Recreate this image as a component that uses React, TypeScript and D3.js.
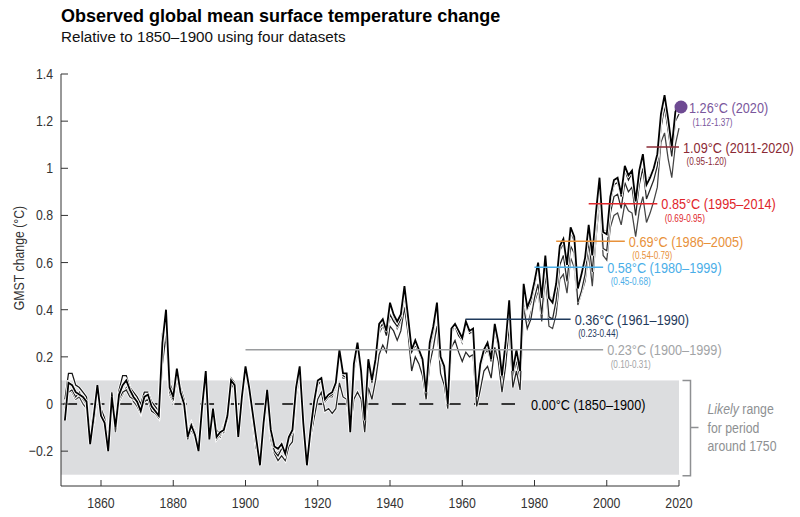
import React from 'react';
import * as d3 from 'd3';

const START_YEAR = 1850;

// Main (black) dataset
const seriesA = [
  -0.07, 0.09, 0.08, 0.05, 0.04, 0.03, 0.01, -0.17, -0.05, 0.08,
  -0.05, -0.08, -0.20, 0.03, -0.10, 0.04, 0.08, 0.10, 0.06, 0.03,
  0.01, -0.03, 0.03, 0.04, -0.01, -0.03, -0.05, 0.26, 0.40, 0.07,
  0.03, 0.15, 0.05, 0.00, -0.14, -0.09, -0.13, -0.20, -0.01, 0.14,
  -0.15, -0.02, -0.14, -0.12, -0.11, -0.05, 0.10, 0.08, -0.14, 0.03,
  0.16, 0.07, -0.04, -0.15, -0.26, -0.08, 0.06, -0.11, -0.18, -0.19,
  -0.17, -0.21, -0.14, -0.11, 0.07, 0.16, -0.08, -0.26, -0.11, 0.01,
  0.10, 0.11, 0.02, 0.04, 0.05, 0.09, 0.23, 0.13, 0.13, -0.12,
  0.17, 0.26, 0.14, -0.07, 0.19, 0.10, 0.19, 0.34, 0.36, 0.31,
  0.43, 0.38, 0.35, 0.38, 0.50, 0.37, 0.23, 0.27, 0.23, 0.19,
  0.05, 0.26, 0.33, 0.43, 0.20, 0.16, 0.00, 0.32, 0.34, 0.31,
  0.28, 0.35, 0.31, 0.32, 0.03, 0.17, 0.23, 0.26, 0.19, 0.34,
  0.26, 0.12, 0.26, 0.44, 0.14, 0.23, 0.14, 0.51, 0.41, 0.45,
  0.52, 0.60, 0.45, 0.63, 0.45, 0.43, 0.51, 0.67, 0.70, 0.59,
  0.75, 0.71, 0.49, 0.55, 0.62, 0.76, 0.63, 0.81, 0.96, 0.73,
  0.72, 0.88, 0.95, 0.96, 0.89, 1.01, 0.97, 0.99, 0.86, 0.99,
  1.06, 0.93, 0.96, 1.00, 1.06, 1.23, 1.31, 1.21, 1.09, 1.24,
  1.27,
];

const seriesB = [
  0.02, 0.13, 0.13, 0.08, 0.07, 0.05, 0.03, -0.13, -0.03, 0.06,
  -0.02, -0.06, -0.16, 0.05, -0.07, 0.06, 0.12, 0.12, 0.07, 0.05,
  0.03, 0.00, 0.05, 0.05, 0.01, -0.01, -0.03, 0.30, 0.35, 0.09,
  0.05, 0.12, 0.07, 0.02, -0.12, -0.08, -0.12, -0.18, 0.00, 0.13,
  -0.13, -0.03, -0.11, -0.13, -0.10, -0.04, 0.11, 0.09, -0.12, 0.02,
  0.14, 0.06, -0.05, -0.16, -0.24, -0.09, 0.04, -0.13, -0.20, -0.22,
  -0.19, -0.19, -0.15, -0.12, 0.05, 0.14, -0.09, -0.24, -0.12, 0.00,
  0.08, 0.10, 0.01, 0.03, 0.04, 0.08, 0.21, 0.12, 0.11, -0.10,
  0.16, 0.24, 0.13, -0.05, 0.17, 0.11, 0.17, 0.32, 0.34, 0.29,
  0.38, 0.35, 0.33, 0.36, 0.46, 0.35, 0.22, 0.25, 0.22, 0.18,
  0.06, 0.24, 0.31, 0.41, 0.19, 0.15, 0.02, 0.31, 0.33, 0.29,
  0.27, 0.34, 0.30, 0.31, 0.05, 0.16, 0.22, 0.25, 0.20, 0.33,
  0.27, 0.13, 0.25, 0.42, 0.15, 0.22, 0.15, 0.48, 0.40, 0.43,
  0.50, 0.58, 0.46, 0.60, 0.46, 0.44, 0.50, 0.65, 0.68, 0.60,
  0.73, 0.69, 0.50, 0.56, 0.61, 0.74, 0.64, 0.79, 0.93, 0.74,
  0.73, 0.86, 0.93, 0.94, 0.88, 0.99, 0.95, 0.98, 0.87, 0.98,
  1.04, 0.94, 0.97, 1.00, 1.05, 1.21, 1.30, 1.20, 1.10, 1.25,
  1.28,
];

const seriesC = [
  0.00, 0.05, 0.06, 0.03, 0.05, 0.02, 0.00, -0.12, -0.08, 0.05,
  -0.03, -0.05, -0.14, 0.01, -0.05, 0.02, 0.05, 0.06, 0.03, 0.02,
  0.03, -0.02, 0.01, 0.02, -0.03, -0.04, -0.06, 0.17, 0.29, 0.05,
  0.02, 0.10, 0.06, 0.01, -0.10, -0.10, -0.11, -0.17, -0.03, 0.11,
  -0.12, -0.04, -0.12, -0.14, -0.09, -0.07, 0.09, 0.06, -0.11, 0.01,
  0.12, 0.05, -0.07, -0.19, -0.23, -0.10, 0.01, -0.15, -0.21, -0.24,
  -0.22, -0.24, -0.18, -0.16, 0.03, 0.12, -0.11, -0.22, -0.14, -0.06,
  0.02, 0.05, -0.03, -0.02, -0.04, -0.02, 0.09, 0.03, 0.02, -0.11,
  0.02, 0.05, 0.02, -0.12, 0.07, 0.02, 0.10, 0.21, 0.25, 0.22,
  0.33, 0.31, 0.27, 0.31, 0.41, 0.30, 0.14, 0.20, 0.17, 0.12,
  0.02, 0.17, 0.24, 0.33, 0.13, 0.08, -0.02, 0.24, 0.27, 0.22,
  0.18, 0.22, 0.20, 0.21, -0.01, 0.06, 0.14, 0.16, 0.11, 0.24,
  0.18, 0.05, 0.16, 0.33, 0.07, 0.14, 0.06, 0.41, 0.32, 0.36,
  0.45, 0.51, 0.38, 0.55, 0.37, 0.36, 0.44, 0.59, 0.63, 0.52,
  0.67, 0.64, 0.43, 0.48, 0.55, 0.69, 0.56, 0.75, 0.90, 0.66,
  0.65, 0.81, 0.88, 0.89, 0.83, 0.94, 0.90, 0.92, 0.80, 0.93,
  1.00, 0.87, 0.91, 0.95, 1.01, 1.17, 1.26, 1.16, 1.05, 1.20,
  1.23,
];

const seriesD = [
  -0.02, 0.06, 0.05, 0.02, 0.03, 0.00, -0.02, -0.15, -0.07, 0.04,
  -0.04, -0.07, -0.18, 0.02, -0.12, 0.01, 0.04, 0.07, 0.04, 0.01,
  -0.01, -0.04, 0.02, 0.02, -0.02, -0.02, -0.06, 0.22, 0.38, 0.04,
  0.01, 0.13, 0.04, -0.02, -0.15, -0.11, -0.14, -0.19, -0.03, 0.12,
  -0.14, -0.04, -0.15, -0.13, -0.12, -0.06, 0.09, 0.07, -0.13, 0.02,
  0.15, 0.06, -0.05, -0.17, -0.25, -0.10, 0.04, -0.13, -0.20, -0.21,
  -0.18, -0.21, -0.15, -0.13, 0.06, 0.15, -0.09, -0.25, -0.12, 0.00,
  0.08, 0.09, 0.01, 0.03, 0.03, 0.07, 0.20, 0.11, 0.11, -0.12,
  0.14, 0.22, 0.12, -0.07, 0.16, 0.09, 0.16, 0.30, 0.33, 0.30,
  0.36, 0.37, 0.32, 0.35, 0.47, 0.35, 0.22, 0.26, 0.23, 0.18,
  0.06, 0.23, 0.30, 0.40, 0.18, 0.14, 0.03, 0.30, 0.33, 0.30,
  0.26, 0.33, 0.30, 0.30, 0.04, 0.15, 0.21, 0.23, 0.18, 0.31,
  0.24, 0.10, 0.22, 0.38, 0.12, 0.18, 0.10, 0.43, 0.33, 0.39,
  0.43, 0.48, 0.35, 0.52, 0.33, 0.32, 0.38, 0.53, 0.55, 0.47,
  0.62, 0.58, 0.42, 0.47, 0.52, 0.64, 0.50, 0.70, 0.86, 0.63,
  0.61, 0.75, 0.80, 0.81, 0.76, 0.85, 0.82, 0.81, 0.71, 0.82,
  0.88, 0.77, 0.81, 0.86, 0.92, 1.11, 1.15, 1.04, 0.96, 1.10,
  1.17,
];

const xTicks = [1860, 1880, 1900, 1920, 1940, 1960, 1980, 2000, 2020];
const yTicks = [-0.2, 0, 0.2, 0.4, 0.6, 0.8, 1, 1.2, 1.4];
const yTickLabels = ['−0.2', '0', '0.2', '0.4', '0.6', '0.8', '1', '1.2', '1.4'];

const periodLabels = ['0.23°C (1900–1999)', '0.36°C (1961–1990)', '0.58°C (1980–1999)', '0.69°C (1986–2005)', '0.85°C (1995–2014)', '1.09°C (2011-2020)'];
const periodRanges = ['(0.10-0.31)', '(0.23-0.44)', '(0.45-0.68)', '(0.54-0.79)', '(0.69-0.95)', '(0.95-1.20)'];
const periodValues = [0.23, 0.36, 0.58, 0.69, 0.85, 1.09];
const periodStarts = [1900, 1961, 1980, 1986, 1995, 2011];
const periodEnds = [1999, 1990, 1999, 2005, 2014, 2020];
const periodColors = ['#9a9c9e', '#1f3a5c', '#4aaee8', '#e8913a', '#e0262b', '#8b2a35'];
const periodTextColors = ['#a2a4a6', '#1f3a5c', '#4aaee8', '#e8913a', '#e0262b', '#8b2a35'];

const value2020 = 1.26;
const label2020 = '1.26°C (2020)';
const range2020 = '(1.12-1.37)';
const baselineLabel = '0.00°C (1850–1900)';
const likelyLow = -0.3;
const likelyHigh = 0.1;

const FONT = "'Liberation Sans', Arial, Helvetica, sans-serif";
const NARROW = 0.82;

function NText(props: {
  x: number; y: number; size: number; fill: string; anchor?: string;
  children: React.ReactNode; weight?: string; rotate?: number;
}) {
  const { x, y, size, fill, anchor = 'start', children, weight = 'normal', rotate = 0 } = props;
  return (
    <text
      transform={`translate(${x},${y}) rotate(${rotate}) scale(${NARROW},1)`}
      fontSize={size}
      fill={fill}
      textAnchor={anchor as any}
      fontFamily={FONT}
      fontWeight={weight}
    >
      {children}
    </text>
  );
}

export default function App() {
  const W = 800;
  const H = 517;
  const x = d3.scaleLinear().domain([1860, 2020]).range([101, 679]);
  const y = d3.scaleLinear().domain([0, 1.4]).range([404, 74]);
  const axisLeft = 61;
  const axisBottom = 486;

  const line = d3
    .line<number>()
    .x((_, i) => x(START_YEAR + i))
    .y((d) => y(d));

  const series = [
    { data: seriesD, color: '#444444', w: 1.25 },
    { data: seriesC, color: '#262626', w: 1.25 },
    { data: seriesB, color: '#141414', w: 1.25 },
    { data: seriesA, color: '#000000', w: 1.8 },
  ];

  const last = 2020;
  const bracketX = 690.5;

  return (
    <svg
      width={W}
      height={H}
      viewBox={`0 0 ${W} ${H}`}
      style={{ position: 'absolute', left: 0, top: 0, background: '#fff' }}
    >
      <rect x={0} y={0} width={W} height={H} fill="#fff" />
      <text x={61} y={22} fontSize={18} fontWeight="bold" fontFamily={FONT} fill="#000">
        Observed global mean surface temperature change
      </text>
      <text x={61} y={42} fontSize={15.2} fontFamily={FONT} fill="#111">
        Relative to 1850–1900 using four datasets
      </text>

      <rect
        x={axisLeft}
        y={y(likelyHigh)}
        width={x(last) - axisLeft}
        height={y(likelyLow) - y(likelyHigh)}
        fill="#dcdddf"
      />

      <path
        d={`M${bracketX - 8},${y(likelyHigh)} H${bracketX} V${y(likelyLow) + 1} H${bracketX - 8} M${bracketX},${y((likelyHigh + likelyLow) / 2)} H${bracketX + 8}`}
        fill="none"
        stroke="#8e9092"
        strokeWidth={1.5}
      />
      <g>
        <text
          transform={`translate(707.5,414) scale(${NARROW},1)`}
          fontSize={15}
          fontFamily={FONT}
          fill="#8e9092"
        >
          <tspan fontStyle="italic">Likely</tspan> range
        </text>
        <NText x={707.5} y={433} size={15} fill="#8e9092">for period</NText>
        <NText x={707.5} y={451} size={15} fill="#8e9092">around 1750</NText>
      </g>

      <line
        x1={x(1849.5)}
        x2={x(1974.6)}
        y1={y(0)}
        y2={y(0)}
        stroke="#000"
        strokeWidth={1.5}
        strokeDasharray="14 13.4"
      />

      {series.map((s, i) => (
        <g key={i}>
          <path d={line(s.data) || ''} fill="none" stroke="#fff" strokeWidth={s.w + 1.6} strokeLinejoin="miter" />
          <path d={line(s.data) || ''} fill="none" stroke={s.color} strokeWidth={s.w} strokeLinejoin="miter" />
        </g>
      ))}

      {periodValues.map((v, i) => (
        <g key={i}>
          <line
            x1={x(periodStarts[i])}
            x2={x(periodEnds[i])}
            y1={y(v)}
            y2={y(v)}
            stroke={periodColors[i]}
            strokeWidth={1.5}
          />
          <NText x={x(periodEnds[i]) + 4} y={y(v) + 5.5} size={15.5} fill={periodTextColors[i]}>
            {periodLabels[i]}
          </NText>
          <NText x={x(periodEnds[i]) + 7.5} y={y(v) + 18} size={10} fill={periodTextColors[i]}>
            {periodRanges[i]}
          </NText>
        </g>
      ))}

      <NText x={531} y={y(0) + 5.5} size={15.5} fill="#000">
        {baselineLabel}
      </NText>

      <circle cx={x(2020) + 2} cy={y(value2020)} r={6.5} fill="#6e4a92" />
      <NText x={x(2020) + 10} y={y(value2020) + 5.5} size={15.5} fill="#7a579c">
        {label2020}
      </NText>
      <NText x={x(2020) + 13.5} y={y(value2020) + 18.5} size={10} fill="#7a579c">
        {range2020}
      </NText>

      <line x1={axisLeft} x2={axisLeft} y1={y(1.4)} y2={axisBottom} stroke="#333" strokeWidth={1} />
      <line x1={axisLeft} x2={x(last)} y1={axisBottom} y2={axisBottom} stroke="#333" strokeWidth={1} />
      {yTicks.map((t, i) => (
        <g key={t}>
          <line x1={axisLeft} x2={axisLeft + 7} y1={y(t)} y2={y(t)} stroke="#333" strokeWidth={1} />
          <NText x={53} y={y(t) + 5} size={15} fill="#333" anchor="end">
            {yTickLabels[i]}
          </NText>
        </g>
      ))}
      {xTicks.map((t) => (
        <g key={t}>
          <line x1={x(t)} x2={x(t)} y1={axisBottom} y2={axisBottom - 6} stroke="#333" strokeWidth={1} />
          <NText x={x(t)} y={508} size={15} fill="#333" anchor="middle">
            {String(t)}
          </NText>
        </g>
      ))}
      <NText x={24} y={258} size={15} fill="#333" anchor="middle" rotate={-90}>
        GMST change  (°C)
      </NText>
    </svg>
  );
}
